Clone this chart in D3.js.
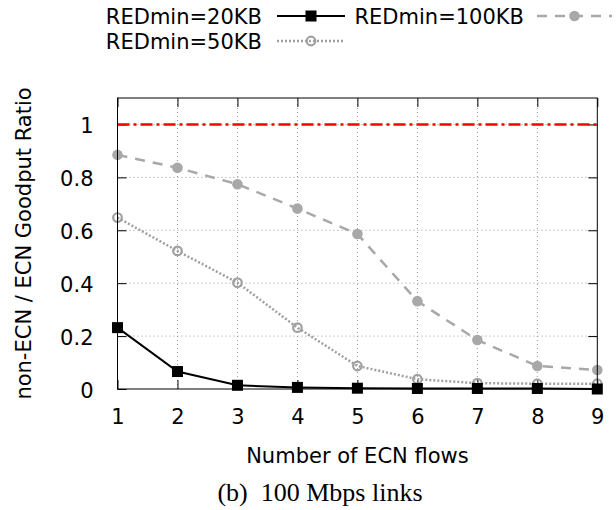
<!DOCTYPE html>
<html><head><meta charset="utf-8">
<script src="https://cdn.jsdelivr.net/npm/d3@7"></script>
<style>
html,body{margin:0;padding:0;background:#fff;}
text{font-family:"DejaVu Sans",sans-serif;fill:#000;}
</style></head>
<body>
<svg id="c" width="616" height="510"></svg>
<script>
const flows = [1, 2, 3, 4, 5, 6, 7, 8, 9];
const red20 = [0.232, 0.066, 0.014, 0.006, 0.003, 0.002, 0.002, 0.002, 0.0];
const red50 = [0.648, 0.522, 0.402, 0.232, 0.087, 0.037, 0.022, 0.020, 0.020];
const red100 = [0.885, 0.836, 0.774, 0.682, 0.586, 0.332, 0.185, 0.087, 0.072];
const refLine = [1, 1];
const xTicks = [1, 2, 3, 4, 5, 6, 7, 8, 9];
const yTicks = [0, 0.2, 0.4, 0.6, 0.8, 1];
const yTickLabels = ["0", "0.2", "0.4", "0.6", "0.8", "1"];
const seriesNames = ["REDmin=20KB", "REDmin=50KB", "REDmin=100KB"];

const svg = d3.select("#c");
svg.append("rect").attr("width",616).attr("height",510).attr("fill","#fff");

const L = 117.5, R = 597.3, T = 98, B = 389;
const x = d3.scaleLinear().domain([1, 9]).range([L, R]);
const y = d3.scaleLinear().domain([0, 1.1]).range([B, T]);

// grid
const g = svg.append("g");
g.selectAll(".gx").data(xTicks.slice(1, -1)).enter().append("line")
  .attr("x1", d => x(d)).attr("x2", d => x(d)).attr("y1", B).attr("y2", T)
  .attr("stroke", "#999").attr("stroke-width", 1).attr("stroke-dasharray", "1,3");
g.selectAll(".gy").data(yTicks.slice(1)).enter().append("line")
  .attr("x1", L).attr("x2", R).attr("y1", d => y(d)).attr("y2", d => y(d))
  .attr("stroke", "#999").attr("stroke-width", 1).attr("stroke-dasharray", "1,3");

// axes with inward ticks (mirrored)
const tl = 9;
const axL = d3.axisLeft(y).tickValues(yTicks).tickSize(-tl).tickFormat((d,i) => yTickLabels[i]).tickPadding(24);
const axR = d3.axisRight(y).tickValues(yTicks).tickSize(-tl).tickFormat("");
const axB = d3.axisBottom(x).tickValues(xTicks).tickSize(-tl).tickFormat(d3.format("d")).tickPadding(20);
const axT = d3.axisTop(x).tickValues(xTicks).tickSize(-tl).tickFormat("");
function style(sel){
  sel.select(".domain").remove();
  sel.selectAll(".tick line").attr("stroke","#000").attr("stroke-width",1);
  sel.selectAll(".tick text").attr("font-size",21).attr("font-family","DejaVu Sans").attr("fill","#000");
}
svg.append("g").attr("transform",`translate(${L},0)`).call(axL).call(style)
  .selectAll(".tick text").attr("dy","0.4em");
svg.append("g").attr("transform",`translate(${R},0)`).call(axR).call(style);
svg.append("g").attr("transform",`translate(0,${B})`).call(axB).call(style);
svg.append("g").attr("transform",`translate(0,${T})`).call(axT).call(style);
svg.selectAll(".tick").filter(function(d){ return false; });

// reference line
svg.append("line").attr("x1", L).attr("x2", R).attr("y1", y(refLine[0])).attr("y2", y(refLine[1]))
  .attr("stroke", "#ff0000").attr("stroke-width", 2.5).attr("stroke-dasharray", "12,4,3,4");

const line = d3.line().x((d,i) => x(flows[i])).y(d => y(d));

const styles = [
  {data: red20, color: "#000", width: 2, dash: null, marker: "square"},
  {data: red50, color: "#a0a0a0", width: 2.5, dash: "2,2", marker: "open"},
  {data: red100, color: "#a8a8a8", width: 2.5, dash: "10,8", marker: "filled"}
];

function drawMarker(sel, s, cx, cy) {
  if (s.marker === "square") {
    sel.append("rect").attr("x", cx - 5.5).attr("y", cy - 5.5).attr("width", 11).attr("height", 11).attr("fill", "#000");
  } else if (s.marker === "open") {
    sel.append("circle").attr("cx", cx).attr("cy", cy).attr("r", 4.3).attr("fill", "none").attr("stroke", s.color).attr("stroke-width", 2.2);
  } else {
    sel.append("circle").attr("cx", cx).attr("cy", cy).attr("r", 5.3).attr("fill", s.color);
  }
}

// draw order: 100, 50, 20
[2, 1, 0].forEach(k => {
  const s = styles[k];
  const gg = svg.append("g");
  gg.append("path").datum(s.data).attr("d", line).attr("fill", "none")
    .attr("stroke", s.color).attr("stroke-width", s.width)
    .attr("stroke-dasharray", s.dash);
  s.data.forEach((v, i) => drawMarker(gg, s, x(flows[i]), y(v)));
});

// frame
svg.append("rect").attr("x", L).attr("y", T).attr("width", R - L).attr("height", B - T)
  .attr("fill", "none").attr("stroke", "#000").attr("stroke-width", 1);

// legend
const leg = [
  {k: 0, tx: 262, y: 16, sx1: 277, sx2: 345},
  {k: 2, tx: 524, y: 16, sx1: 537, sx2: 612},
  {k: 1, tx: 262, y: 41, sx1: 277, sx2: 345}
];
leg.forEach(o => {
  const s = styles[o.k];
  svg.append("text").attr("x", o.tx).attr("y", o.y).attr("dy", "0.36em")
    .attr("text-anchor", "end").attr("font-size", 21).text(seriesNames[o.k]);
  svg.append("line").attr("x1", o.sx1).attr("x2", o.sx2).attr("y1", o.y).attr("y2", o.y)
    .attr("stroke", s.color).attr("stroke-width", s.width).attr("stroke-dasharray", s.dash);
  drawMarker(svg, s, (o.sx1 + o.sx2) / 2, o.y);
});

// axis titles
svg.append("text").attr("x", (L + R) / 2).attr("y", 463).attr("text-anchor", "middle")
  .attr("font-size", 21).text("Number of ECN flows");
svg.append("text").attr("transform", `translate(31,${(T + B) / 2}) rotate(-90)`)
  .attr("text-anchor", "middle").attr("font-size", 21).text("non-ECN / ECN Goodput Ratio");
svg.append("text").attr("x", 320).attr("y", 501).attr("text-anchor", "middle")
  .attr("font-size", 26).attr("font-family", "Liberation Serif, serif").style("font-family","Liberation Serif").style("white-space","pre")
  .text("(b)\u00a0 100 Mbps links");
</script>
</body></html>
